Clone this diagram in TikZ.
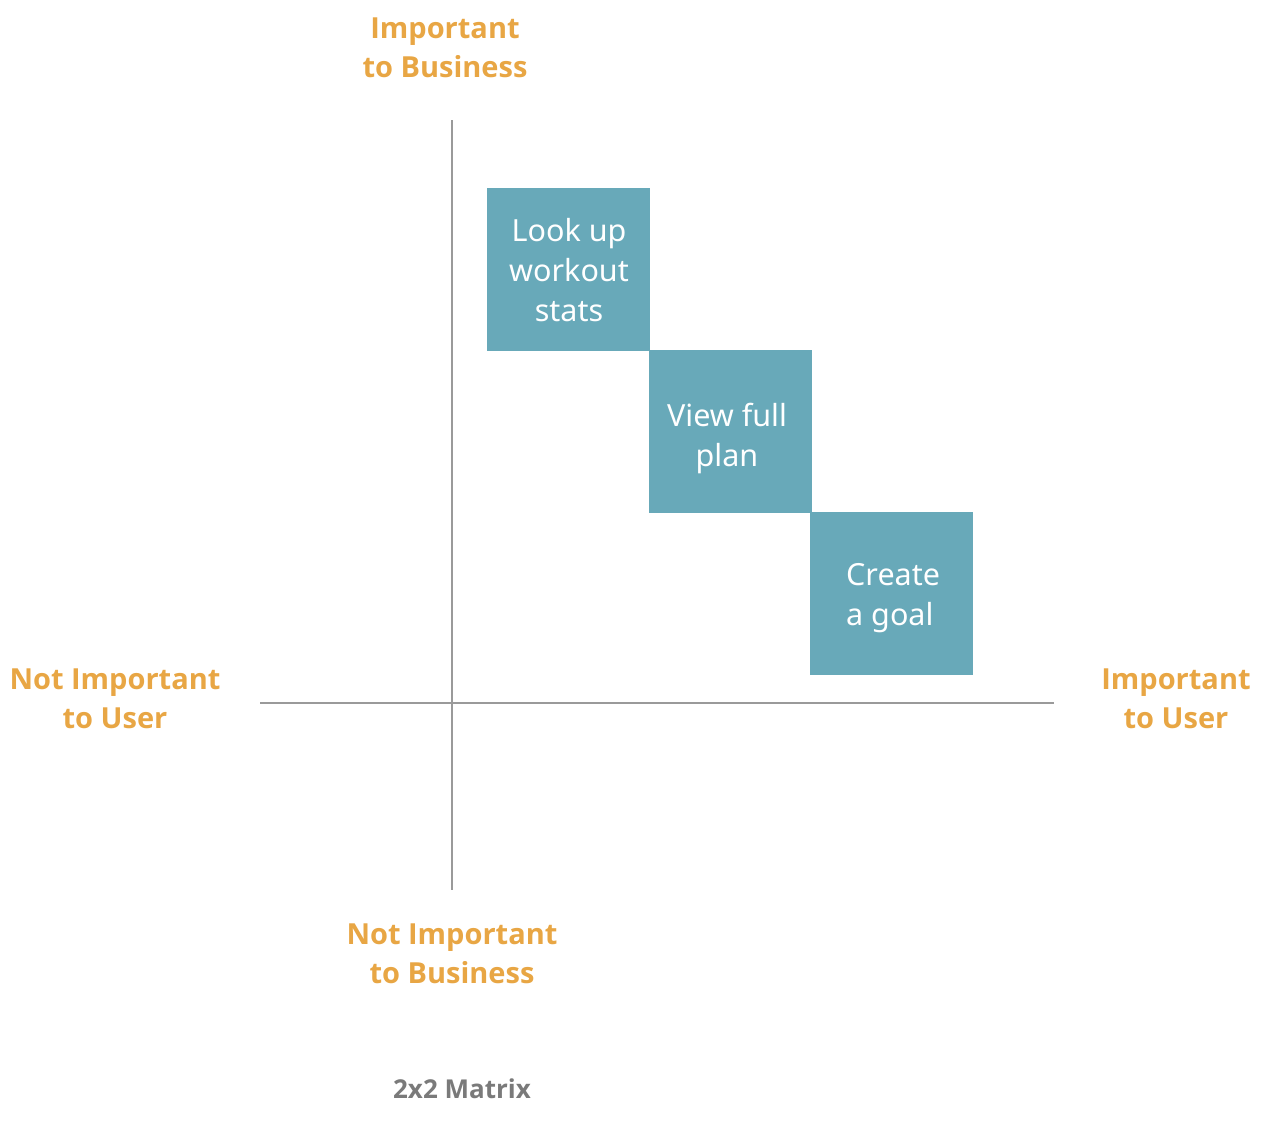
\documentclass[tikz,border=0pt]{standalone}
\usepackage{fontspec}
\setmainfont{Noto Sans}
\newfontfamily\lblfont{Open Sans}
\definecolor{lblorange}{HTML}{E8A644}
\definecolor{boxblue}{HTML}{68A9B9}
\definecolor{axisgray}{HTML}{9A9A9A}
\definecolor{titlegray}{HTML}{7A7A7A}
\begin{document}
\begin{tikzpicture}[x=1pt,y=-1pt,
  axisline/.style={draw=axisgray,line width=1.2pt},
  quad/.style={fill=boxblue,draw=none,minimum width=163pt,minimum height=163pt,inner sep=0pt},
  boxtext/.style={text=white,inner sep=0pt,font=\fontsize{30.5}{40}\selectfont},
  lbl/.style={text=lblorange,align=center,font=\lblfont\fontsize{29}{39}\selectfont\bfseries,inner sep=0pt}]
\useasboundingbox (0,0) rectangle (1264,1124);
\coordinate (vt) at (452,120);
\coordinate (vb) at (452,890);
\coordinate (hl) at (260,703);
\coordinate (hr) at (1054,703);
\draw[axisline] (vt) -- (vb);
\draw[axisline] (hl) -- (hr);
\node[quad] (b1) at (568.5,269.5) {};
\node[quad] (b2) at (730,431.5) {};
\node[quad] (b3) at (891.5,593.5) {};
\node[boxtext,align=center] (t1) at (569,270) {Look up\\workout\\stats};
\node[boxtext,align=center] (t2) at (727,438) {View full\\plan};
\node[boxtext,align=left,anchor=west] (t3) at (846,598) {Create\\a goal};
\node[lbl] (top) at (445,48) {Important\\to Business};
\node[lbl] (left) at (115,699) {Not Important\\to User};
\node[lbl] (right) at (1176,699) {Important\\to User};
\node[lbl] (bottom) at (452,954) {Not Important\\to Business};
\node[text=titlegray,font=\lblfont\fontsize{26}{30}\selectfont\bfseries,inner sep=0pt] (title) at (462,1089) {2x2 Matrix};
\end{tikzpicture}
\end{document}
